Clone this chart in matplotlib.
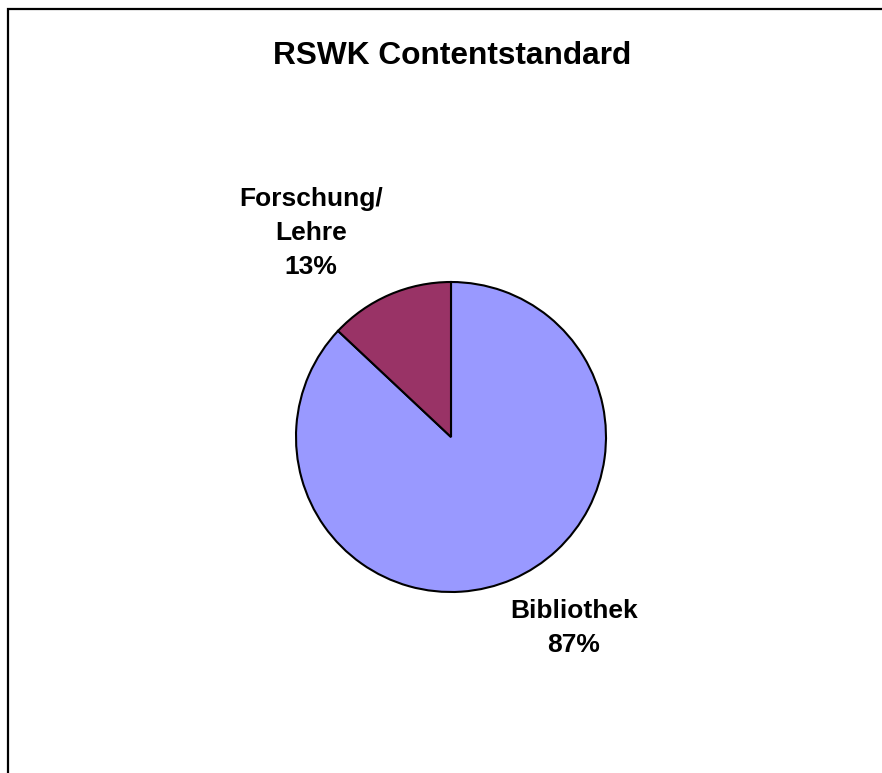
import matplotlib
matplotlib.use("Agg")
import matplotlib.pyplot as plt
from matplotlib.patches import Rectangle

plt.rcParams['font.family'] = ['Liberation Sans', 'DejaVu Sans']

title = "RSWK Contentstandard"
categories = ["Bibliothek", "Forschung/\nLehre"]
shares = [87, 13]
colors = ["#9999FF", "#993366"]

W, H = 882, 773
fig = plt.figure(figsize=(W / 100, H / 100), dpi=100)
ax = fig.add_axes([0, 0, 1, 1])

# chart frame (top and left edges visible)
ax.add_patch(Rectangle((8, -20), W + 40, H - 9 + 20, fill=False,
                       edgecolor='black', linewidth=1.6, clip_on=False))

cx, cy, r = 451, H - 437, 155
wedges, _ = ax.pie(shares, colors=colors, startangle=90, counterclock=False,
                   center=(cx, cy), radius=r, frame=True,
                   wedgeprops=dict(edgecolor='black', linewidth=1.5))
ax.set_xlim(0, W)
ax.set_ylim(0, H)
ax.axis('off')

ax.text(452, H - 56, title, ha='center', va='center',
        fontsize=22.8, fontweight='bold')

label_pos = [(574, H - 628), (311, H - 233)]
for (x, y), cat, v in zip(label_pos, categories, shares):
    ax.text(x, y, f"{cat}\n{v}%", ha='center', va='center',
            fontsize=19, fontweight='bold', linespacing=1.54)

fig.savefig("out.png", dpi=100)
